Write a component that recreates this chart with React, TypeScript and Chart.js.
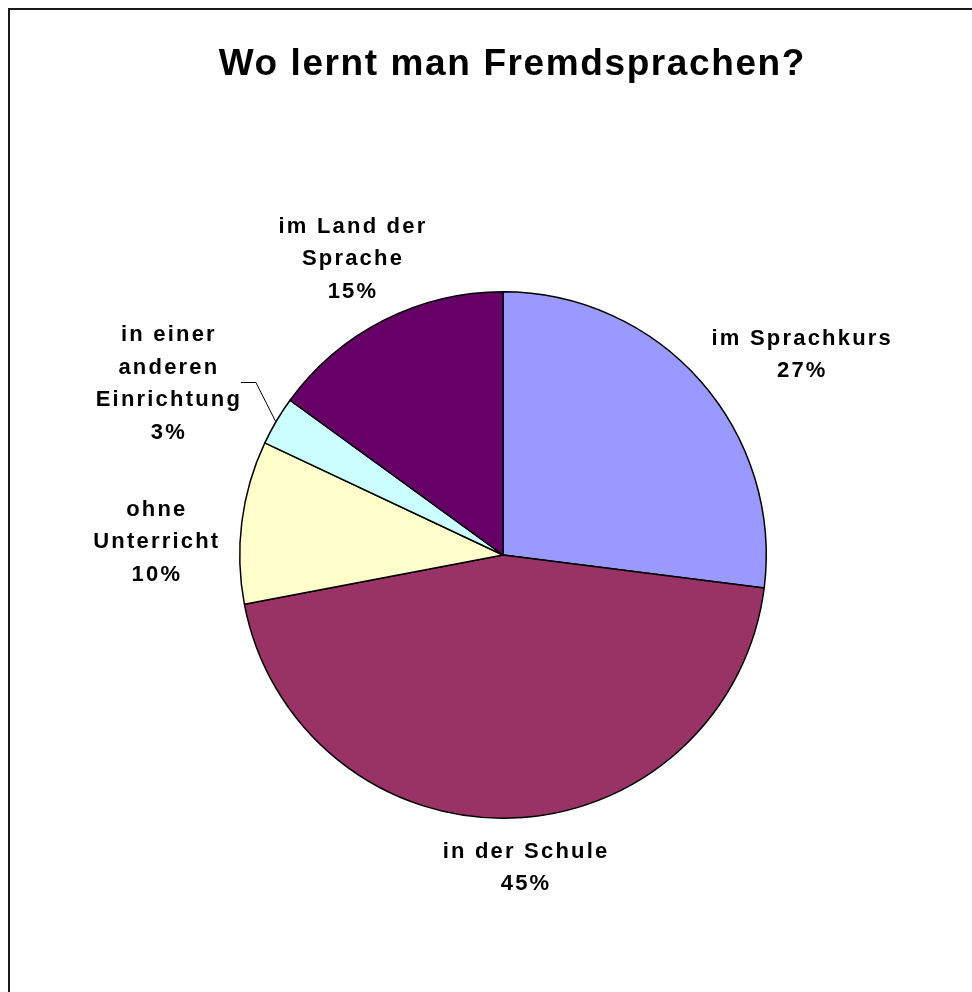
import React, { useEffect, useRef } from "react";
import { Chart, registerables } from "chart.js";

Chart.register(...registerables);

// ---- data ----
const titleText = "Wo lernt man Fremdsprachen?";
const categories = [
  "im Sprachkurs",
  "in der Schule",
  "ohne Unterricht",
  "in einer anderen Einrichtung",
  "im Land der Sprache",
];
const labelLines = [
  ["im Sprachkurs"],
  ["in der Schule"],
  ["ohne", "Unterricht"],
  ["in einer", "anderen", "Einrichtung"],
  ["im Land der", "Sprache"],
];
const values = [27, 45, 10, 3, 15];
const colors = ["#9999FF", "#993366", "#FFFFCC", "#CCFFFF", "#660066"];

// ---- label layout (offset of label block centre from the slice's outer mid point) ----
const labelOffsets: [number, number][] = [
  [100.7, -27.6],
  [13.7, 48.1],
  [-86.1, 18.5],
  [-108.6, -39.1],
  [-31.6, -63.2],
];
const leaderLines = [false, false, false, true, false];

const FONT_FAMILY = '"Liberation Sans", Arial, Helvetica, sans-serif';
const LABEL_SPACING = 2.2;
const TITLE_SPACING = 1.6;

const labelPlugin = {
  id: "sliceLabels",
  afterDraw(chart: any) {
    const ctx: CanvasRenderingContext2D = chart.ctx;
    const meta = chart.getDatasetMeta(0);
    const total = values.reduce((a, b) => a + b, 0);
    ctx.save();
    ctx.fillStyle = "#000";
    ctx.textAlign = "left";
    ctx.textBaseline = "alphabetic";

    // title
    ctx.font = `bold 37px ${FONT_FAMILY}`;
    (ctx as any).letterSpacing = `${TITLE_SPACING}px`;
    const tw = ctx.measureText(titleText).width - TITLE_SPACING;
    ctx.fillText(titleText, 501.5 - tw / 2, 65);

    // slice labels
    ctx.font = `bold 22px ${FONT_FAMILY}`;
    (ctx as any).letterSpacing = `${LABEL_SPACING}px`;
    const lineH = 32.5;
    const capH = 15.8;
    meta.data.forEach((arc: any, i: number) => {
      const p = arc.getProps(["x", "y", "startAngle", "endAngle", "outerRadius"], true);
      const mid = (p.startAngle + p.endAngle) / 2;
      const px = p.x + Math.cos(mid) * p.outerRadius;
      const py = p.y + Math.sin(mid) * p.outerRadius;
      const lines = [...labelLines[i], Math.round((values[i] / total) * 100) + "%"];
      const cx = px + labelOffsets[i][0];
      const cy = py + labelOffsets[i][1];
      const blockH = (lines.length - 1) * lineH + capH;
      let maxW = 0;
      lines.forEach((t, k) => {
        const w = ctx.measureText(t).width - LABEL_SPACING;
        maxW = Math.max(maxW, w);
        ctx.fillText(t, cx - w / 2, cy - blockH / 2 + capH + k * lineH);
      });
      if (leaderLines[i]) {
        const x0 = cx + maxW / 2 + 1;
        const y0 = Math.round(cy) + 0.5;
        ctx.beginPath();
        ctx.strokeStyle = "#000";
        ctx.lineWidth = 1;
        ctx.moveTo(x0, y0);
        ctx.lineTo(x0 + 15, y0);
        ctx.lineTo(px - 1, py);
        ctx.stroke();
      }
    });
    ctx.restore();
  },
};

export default function App() {
  const canvasRef = useRef<HTMLCanvasElement | null>(null);

  useEffect(() => {
    if (!canvasRef.current) return;
    const chart = new Chart(canvasRef.current, {
      type: "pie",
      data: {
        labels: categories,
        datasets: [
          {
            data: values,
            backgroundColor: colors,
            borderColor: "#000",
            borderWidth: 1.5,
          },
        ],
      },
      options: {
        responsive: false,
        animation: false,
        events: [],
        layout: { padding: { left: 229, right: 205, top: 281, bottom: 173 } },
        plugins: {
          legend: { display: false },
          tooltip: { enabled: false },
          title: { display: false },
        },
      },
      plugins: [labelPlugin],
    });
    return () => chart.destroy();
  }, []);

  return (
    <div
      style={{
        position: "absolute",
        left: 8,
        top: 8,
        width: 962,
        height: 982,
        borderLeft: "2px solid #1a1a1a",
        borderTop: "2px solid #1a1a1a",
        background: "#fff",
      }}
    >
      <canvas ref={canvasRef} width={962} height={982} style={{ display: "block" }} />
    </div>
  );
}
